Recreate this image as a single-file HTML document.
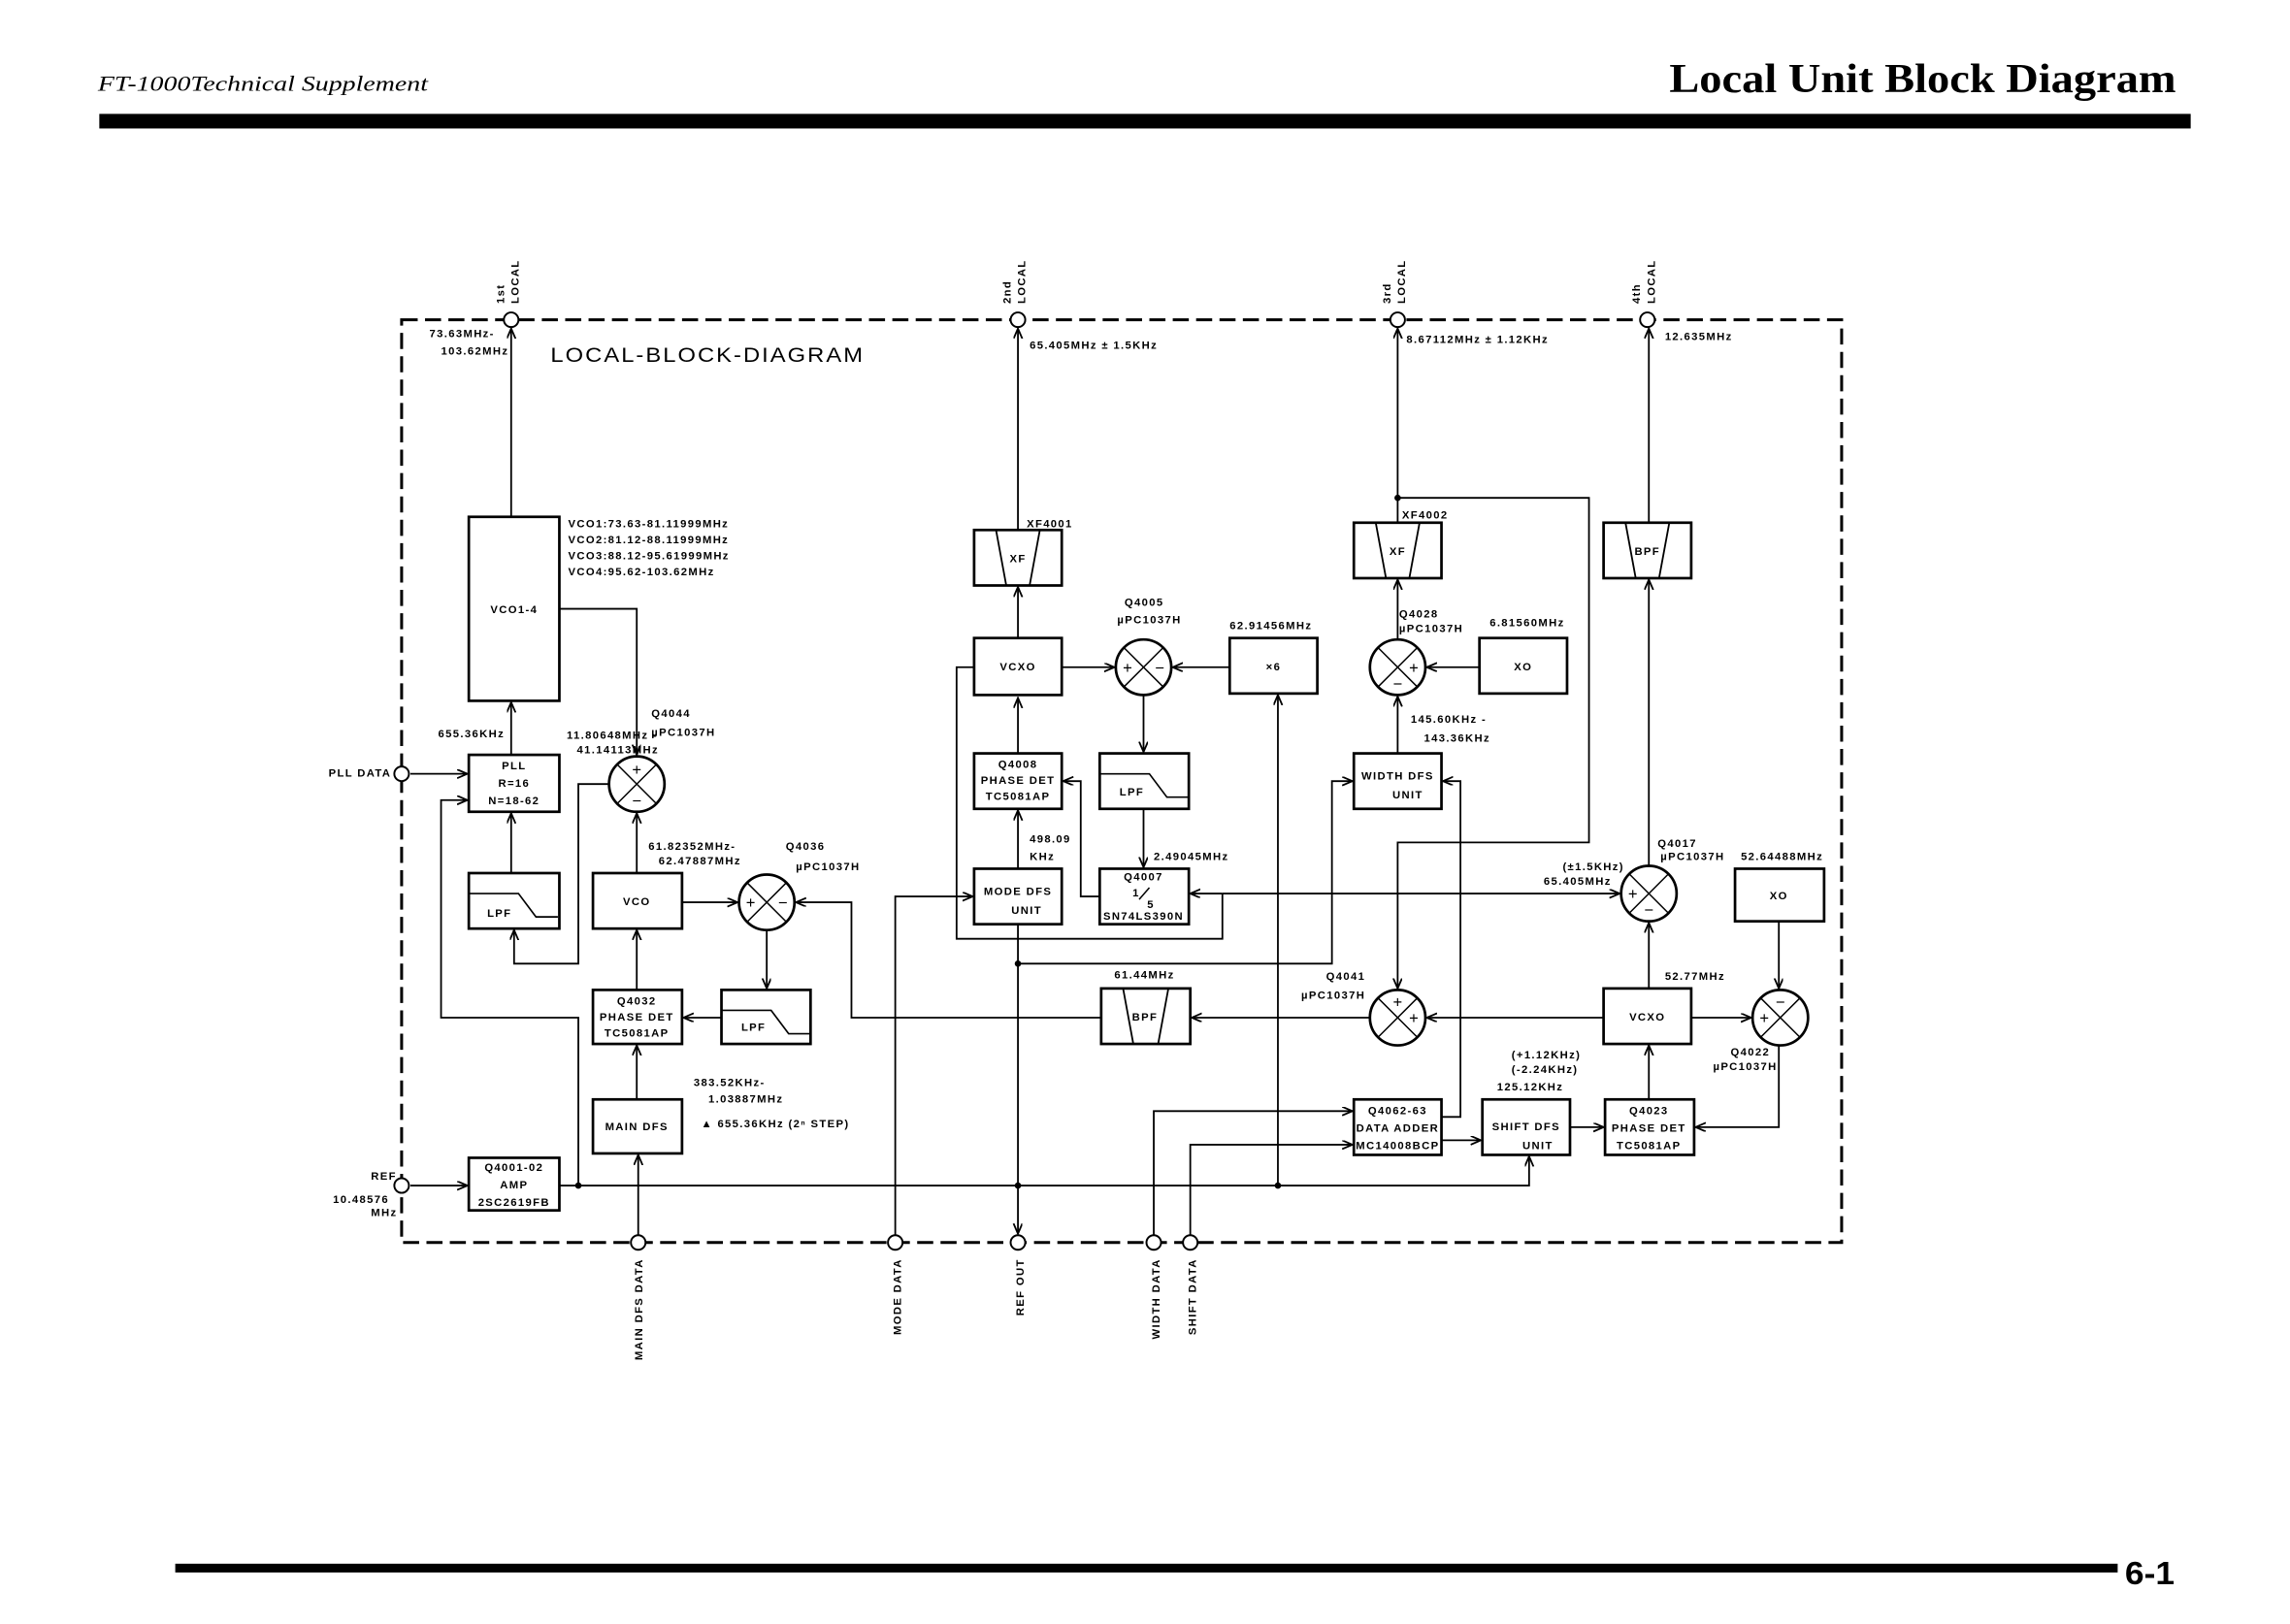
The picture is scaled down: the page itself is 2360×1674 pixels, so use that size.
<!DOCTYPE html>
<html><head><meta charset="utf-8"><style>
html,body{margin:0;padding:0;background:#fff;}
svg{display:block;}
.t{font-family:"Liberation Sans",sans-serif;font-weight:bold;font-size:7.5px;letter-spacing:0.9px;fill:#000;}
.b{font-family:"Liberation Sans",sans-serif;font-weight:bold;font-size:7.5px;letter-spacing:0.9px;fill:#000;text-anchor:middle;}
.s{font-family:"Liberation Sans",sans-serif;font-size:11px;fill:#000;text-anchor:middle;}
.bx{fill:#fff;stroke:#000;stroke-width:1.8;}
.l{fill:none;stroke:#000;stroke-width:1.2;}
</style></head><body>
<svg width="2360" height="1674" viewBox="0 0 1568 1112.3" preserveAspectRatio="none" xmlns="http://www.w3.org/2000/svg">
<defs>
<marker id="a" markerWidth="8" markerHeight="8" refX="7" refY="3" orient="auto" markerUnits="userSpaceOnUse"><path d="M0,0 L7,3 L0,6" fill="none" stroke="#000" stroke-width="1.2"/></marker>
<g id="mx"><circle r="19" fill="#fff" stroke="#000" stroke-width="1.8"/><path d="M-13.4,-13.4 L13.4,13.4 M-13.4,13.4 L13.4,-13.4" stroke="#000" stroke-width="1"/></g>
<g id="lpf"><path d="M0,14 L34,14 L46,30 L61,30" fill="none" stroke="#000" stroke-width="1.1"/></g>
</defs>
<rect width="1568" height="1112.3" fill="#fff"/>

<!-- header -->
<text x="67" y="62" font-family="Liberation Serif,serif" font-style="italic" font-size="15" textLength="226" lengthAdjust="spacingAndGlyphs">FT-1000Technical Supplement</text>
<text x="1490" y="63" text-anchor="end" font-family="Liberation Serif,serif" font-weight="bold" font-size="28" textLength="347" lengthAdjust="spacingAndGlyphs">Local Unit Block Diagram</text>
<rect x="68" y="78" width="1432" height="10" fill="#000"/>
<!-- footer -->
<rect x="120" y="1071" width="1330" height="6" fill="#000"/>
<text x="1455" y="1085" font-family="Liberation Sans,sans-serif" font-weight="bold" font-size="22" textLength="34" lengthAdjust="spacingAndGlyphs">6-1</text>

<!-- frame -->
<rect x="275" y="219" width="986" height="632" fill="none" stroke="#000" stroke-width="2" stroke-dasharray="11,5"/>
<text x="377" y="248" font-family="Liberation Sans,sans-serif" font-size="14" letter-spacing="1.2" textLength="215" lengthAdjust="spacingAndGlyphs">LOCAL-BLOCK-DIAGRAM</text>

<!-- top vertical labels -->
<g class="t" font-size="7">
<text transform="translate(345,208) rotate(-90)">1st</text><text transform="translate(355,208) rotate(-90)">LOCAL</text>
<text transform="translate(692,208) rotate(-90)">2nd</text><text transform="translate(702,208) rotate(-90)">LOCAL</text>
<text transform="translate(952,208) rotate(-90)">3rd</text><text transform="translate(962,208) rotate(-90)">LOCAL</text>
<text transform="translate(1123,208) rotate(-90)">4th</text><text transform="translate(1133,208) rotate(-90)">LOCAL</text>
</g>
<!-- bottom vertical labels -->
<g class="t" font-size="7.5" text-anchor="end">
<text transform="translate(440,862) rotate(-90)">MAIN DFS DATA</text>
<text transform="translate(617,862) rotate(-90)">MODE DATA</text>
<text transform="translate(701,862) rotate(-90)">REF OUT</text>
<text transform="translate(794,862) rotate(-90)">WIDTH DATA</text>
<text transform="translate(819,862) rotate(-90)">SHIFT DATA</text>
</g>

<!-- connectors -->
<g class="l" marker-end="url(#a)">
<path d="M350,354 V225"/>
<path d="M350,517 V481"/>
<path d="M350,598 V557"/>
<path d="M383,417 H436 V517"/>
<path d="M417,537 H396 V660 H352 V637"/>
<path d="M281,530 H320"/>
<path d="M281,812 H320"/>
<path d="M383,812 H1047 V792"/>
<path d="M396,812 V697 H302 V548 H320"/>
<path d="M436,598 V557"/>
<path d="M467,618 H505"/>
<path d="M525,637 V677"/>
<path d="M494,697 H468"/>
<path d="M436,678 V637"/>
<path d="M436,753 V716"/>
<path d="M437,846 V791"/>
<path d="M754,697 H583 V618 H545"/>
<path d="M938,697 H816"/>
<path d="M1098,697 H977"/>
<path d="M1158,697 H1199"/>
<path d="M1218,631 V677"/>
<path d="M1218,716 V772 H1161"/>
<path d="M1129,755 V716"/>
<path d="M1129,677 V632"/>
<path d="M1129,593 V397"/>
<path d="M1129,358 V225"/>
<path d="M1075,772 H1098"/>
<path d="M987,781 H1014"/>
<path d="M987,765 H1000 V535 H988"/>
<path d="M790,846 V761 H926"/>
<path d="M815,846 V784 H926"/>
<path d="M697,633 V845"/>
<path d="M697,660 H912 V535 H926"/>
<path d="M957,358 V225"/>
<path d="M957,341 H1088 V577 H957 V677"/>
<path d="M957,438 V397"/>
<path d="M1013,457 H977"/>
<path d="M957,516 V477"/>
<path d="M697,363 V225"/>
<path d="M697,437 V402"/>
<path d="M697,516 V478"/>
<path d="M697,595 V555"/>
<path d="M727,457 H763"/>
<path d="M842,457 H803"/>
<path d="M875,812 V476"/>
<path d="M783,476 V515"/>
<path d="M783,554 V594"/>
<path d="M753,614 H740 V535 H728"/>
<path d="M837,612 H815"/>
<path d="M837,612 H1109"/>
<path d="M613,846 V614 H666"/>
</g>
<path class="l" d="M667,457 H655 V643 H837 V612"/>
<g fill="#000"><circle cx="396" cy="812" r="2.2"/><circle cx="697" cy="812" r="2.2"/><circle cx="875" cy="812" r="2.2"/><circle cx="697" cy="660" r="2.2"/><circle cx="957" cy="341" r="2.2"/></g>

<!-- terminal circles -->
<g fill="#fff" stroke="#000" stroke-width="1.3">
<circle cx="350" cy="219" r="5"/><circle cx="697" cy="219" r="5"/><circle cx="957" cy="219" r="5"/><circle cx="1128" cy="219" r="5"/>
<circle cx="275" cy="530" r="5"/><circle cx="275" cy="812" r="5"/>
<circle cx="437" cy="851" r="5"/><circle cx="613" cy="851" r="5"/><circle cx="697" cy="851" r="5"/><circle cx="790" cy="851" r="5"/><circle cx="815" cy="851" r="5"/>
</g>

<!-- boxes -->
<rect class="bx" x="321" y="354" width="62" height="126"/><text class="b" x="352" y="420">VCO1-4</text>
<rect class="bx" x="321" y="517" width="62" height="39"/><text class="b" x="352" y="527">PLL</text><text class="b" x="352" y="539">R=16</text><text class="b" x="352" y="551">N=18-62</text>
<rect class="bx" x="321" y="598" width="62" height="38"/><use href="#lpf" x="321" y="598"/><text class="b" x="342" y="628">LPF</text>
<rect class="bx" x="406" y="598" width="61" height="38"/><text class="b" x="436" y="620">VCO</text>
<rect class="bx" x="406" y="678" width="61" height="37"/><text class="b" x="436" y="688">Q4032</text><text class="b" x="436" y="699">PHASE DET</text><text class="b" x="436" y="710">TC5081AP</text>
<rect class="bx" x="494" y="678" width="61" height="37"/><use href="#lpf" x="494" y="678"/><text class="b" x="516" y="706">LPF</text>
<rect class="bx" x="406" y="753" width="61" height="37"/><text class="b" x="436" y="774">MAIN DFS</text>
<rect class="bx" x="321" y="793" width="62" height="36"/><text class="b" x="352" y="802">Q4001-02</text><text class="b" x="352" y="814">AMP</text><text class="b" x="352" y="826">2SC2619FB</text>

<rect class="bx" x="667" y="363" width="60" height="38"/><path class="l" d="M682,363 L689,401 M712,363 L705,401" stroke-width="1"/><text class="b" x="697" y="385">XF</text>
<rect class="bx" x="667" y="437" width="60" height="39"/><text class="b" x="697" y="459">VCXO</text>
<rect class="bx" x="842" y="437" width="60" height="38"/><text class="b" x="872" y="459">×6</text>
<rect class="bx" x="667" y="516" width="60" height="38"/><text class="b" x="697" y="526">Q4008</text><text class="b" x="697" y="537">PHASE DET</text><text class="b" x="697" y="548">TC5081AP</text>
<rect class="bx" x="753" y="516" width="61" height="38"/><use href="#lpf" x="753" y="516"/><text class="b" x="775" y="545">LPF</text>
<rect class="bx" x="667" y="595" width="60" height="38"/><text class="b" x="697" y="613">MODE DFS</text><text class="b" x="703" y="626">UNIT</text>
<rect class="bx" x="753" y="595" width="61" height="38"/><text class="b" x="783" y="603">Q4007</text><text class="b" x="778" y="614">1</text><path d="M780,616 L787,608" stroke="#000"/><text class="b" x="788" y="622">5</text><text class="b" x="783" y="630">SN74LS390N</text>
<rect class="bx" x="754" y="677" width="61" height="38"/><path class="l" d="M769,677 L776,715 M800,677 L793,715" stroke-width="1"/><text class="b" x="784" y="699">BPF</text>

<rect class="bx" x="927" y="358" width="60" height="38"/><path class="l" d="M942,358 L949,396 M972,358 L965,396" stroke-width="1"/><text class="b" x="957" y="380">XF</text>
<rect class="bx" x="1013" y="437" width="60" height="38"/><text class="b" x="1043" y="459">XO</text>
<rect class="bx" x="927" y="516" width="60" height="38"/><text class="b" x="957" y="534">WIDTH DFS</text><text class="b" x="964" y="547">UNIT</text>
<rect class="bx" x="927" y="753" width="60" height="38"/><text class="b" x="957" y="763">Q4062-63</text><text class="b" x="957" y="775">DATA ADDER</text><text class="b" x="957" y="787">MC14008BCP</text>
<rect class="bx" x="1015" y="753" width="60" height="38"/><text class="b" x="1045" y="774">SHIFT DFS</text><text class="b" x="1053" y="787">UNIT</text>

<rect class="bx" x="1098" y="358" width="60" height="38"/><path class="l" d="M1113,358 L1120,396 M1143,358 L1136,396" stroke-width="1"/><text class="b" x="1128" y="380">BPF</text>
<rect class="bx" x="1188" y="595" width="61" height="36"/><text class="b" x="1218" y="616">XO</text>
<rect class="bx" x="1098" y="677" width="60" height="38"/><text class="b" x="1128" y="699">VCXO</text>
<rect class="bx" x="1099" y="753" width="61" height="38"/><text class="b" x="1129" y="763">Q4023</text><text class="b" x="1129" y="775">PHASE DET</text><text class="b" x="1129" y="787">TC5081AP</text>

<!-- mixers -->
<use href="#mx" x="436" y="537"/><text class="s" x="436" y="531">+</text><text class="s" x="436" y="552">−</text>
<use href="#mx" x="525" y="618"/><text class="s" x="514" y="622">+</text><text class="s" x="536" y="622">−</text>
<use href="#mx" x="783" y="457"/><text class="s" x="772" y="461">+</text><text class="s" x="794" y="461">−</text>
<use href="#mx" x="957" y="457"/><text class="s" x="968" y="461">+</text><text class="s" x="957" y="472">−</text>
<use href="#mx" x="1129" y="612"/><text class="s" x="1118" y="616">+</text><text class="s" x="1129" y="627">−</text>
<use href="#mx" x="957" y="697"/><text class="s" x="957" y="690">+</text><text class="s" x="968" y="701">+</text>
<use href="#mx" x="1219" y="697"/><text class="s" x="1219" y="690">−</text><text class="s" x="1208" y="701">+</text>

<!-- labels -->
<g class="t">
<text x="294" y="231">73.63MHz-</text><text x="302" y="243">103.62MHz</text>
<text x="389" y="361">VCO1:73.63-81.11999MHz</text><text x="389" y="372">VCO2:81.12-88.11999MHz</text><text x="389" y="383">VCO3:88.12-95.61999MHz</text><text x="389" y="394">VCO4:95.62-103.62MHz</text>
<text x="225" y="532">PLL DATA</text>
<text x="300" y="505">655.36KHz</text><text x="388" y="506">11.80648MHz -</text><text x="395" y="516">41.14113MHz</text>
<text x="446" y="491">Q4044</text><text x="446" y="504">µPC1037H</text>
<text x="444" y="582">61.82352MHz-</text><text x="451" y="592">62.47887MHz</text>
<text x="538" y="582">Q4036</text><text x="545" y="596">µPC1037H</text>
<text x="475" y="744">383.52KHz-</text><text x="485" y="755">1.03887MHz</text>
<text x="480" y="772">▲ 655.36KHz   (2ⁿ STEP)</text>
<text x="254" y="808">REF</text><text x="228" y="824">10.48576</text><text x="254" y="833">MHz</text>
<text x="705" y="239">65.405MHz ± 1.5KHz</text>
<text x="703" y="361">XF4001</text>
<text x="770" y="415">Q4005</text><text x="765" y="427">µPC1037H</text>
<text x="842" y="431">62.91456MHz</text>
<text x="705" y="577">498.09</text><text x="705" y="589">KHz</text>
<text x="790" y="589">2.49045MHz</text>
<text x="763" y="670">61.44MHz</text>
<text x="963" y="235">8.67112MHz ± 1.12KHz</text>
<text x="960" y="355">XF4002</text>
<text x="958" y="423">Q4028</text><text x="958" y="433">µPC1037H</text>
<text x="1020" y="429">6.81560MHz</text>
<text x="966" y="495">145.60KHz -</text><text x="975" y="508">143.36KHz</text>
<text x="908" y="671">Q4041</text><text x="891" y="684">µPC1037H</text>
<text x="1140" y="233">12.635MHz</text>
<text x="1135" y="580">Q4017</text><text x="1137" y="589">µPC1037H</text>
<text x="1070" y="596">(±1.5KHz)</text><text x="1057" y="606">65.405MHz</text>
<text x="1192" y="589">52.64488MHz</text>
<text x="1140" y="671">52.77MHz</text>
<text x="1185" y="723">Q4022</text><text x="1173" y="733">µPC1037H</text>
<text x="1035" y="725">(+1.12KHz)</text><text x="1035" y="735">(-2.24KHz)</text><text x="1025" y="747">125.12KHz</text>
</g>
</svg>
</body></html>
